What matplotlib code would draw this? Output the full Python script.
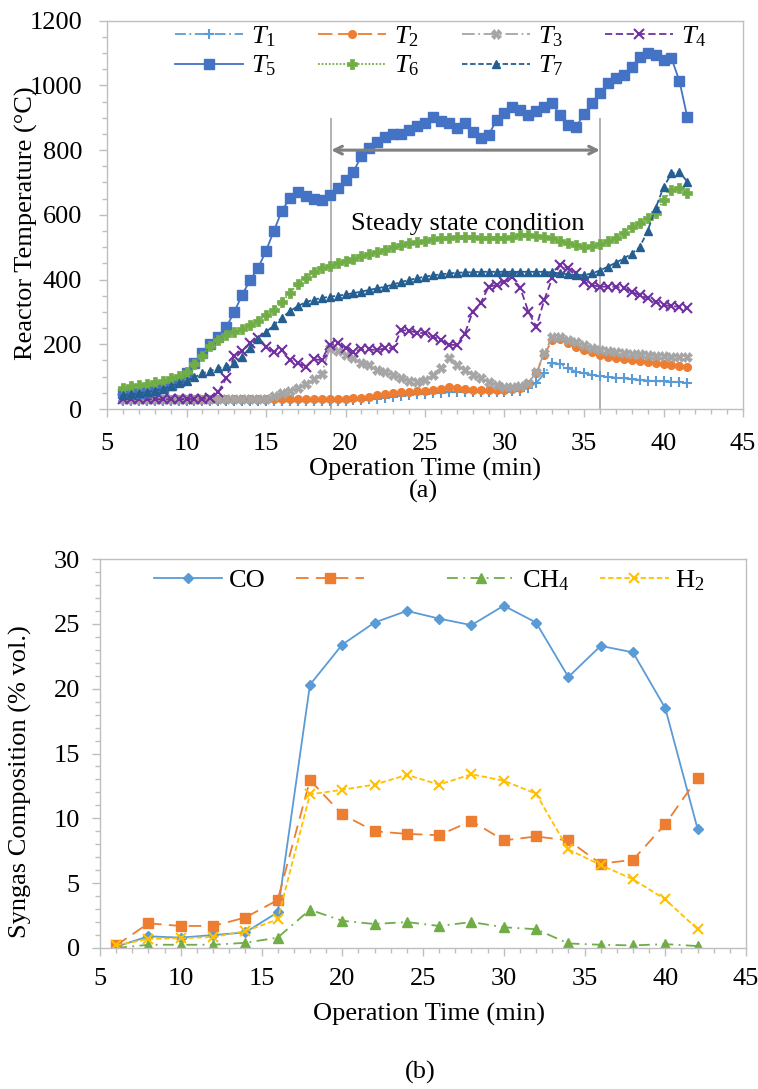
import matplotlib
matplotlib.use("Agg")
import matplotlib.pyplot as plt
from matplotlib.ticker import MultipleLocator

plt.rcParams['font.family'] = ['Liberation Serif', 'DejaVu Serif']
plt.rcParams['mathtext.fontset'] = 'custom'
plt.rcParams['mathtext.rm'] = 'Liberation Serif'
plt.rcParams['mathtext.it'] = 'Liberation Serif:italic'

# ---- (a) reactor temperatures, sampled every 0.5 min ----
time_a = [6, 6.5, 7, 7.5, 8, 8.5, 9, 9.5, 10, 10.5,
          11, 11.5, 12, 12.5, 13, 13.5, 14, 14.5, 15, 15.5,
          16, 16.5, 17, 17.5, 18, 18.5, 19, 19.5, 20, 20.5,
          21, 21.5, 22, 22.5, 23, 23.5, 24, 24.5, 25, 25.5,
          26, 26.5, 27, 27.5, 28, 28.5, 29, 29.5, 30, 30.5,
          31, 31.5, 32, 32.5, 33, 33.5, 34, 34.5, 35, 35.5,
          36, 36.5, 37, 37.5, 38, 38.5, 39, 39.5, 40, 40.5,
          41, 41.5]

T1 = [25, 25, 25, 25, 25, 25, 25, 25, 25, 25,
      25, 25, 25, 25, 25, 25, 25, 25, 25, 25,
      25, 25, 25, 25, 25, 25, 25, 25, 26, 27,
      28, 30, 32, 35, 38, 40, 43, 45, 47, 48,
      50, 52, 53, 53, 52, 52, 52, 52, 53, 55,
      57, 65, 80, 110, 141, 139, 126, 115, 110, 106,
      102, 99, 97, 95, 92, 90, 88, 86, 85, 84,
      83, 81]
T2 = [30, 30, 30, 30, 30, 30, 30, 30, 30, 30,
      30, 30, 30, 30, 30, 30, 30, 30, 30, 30,
      30, 30, 30, 30, 30, 30, 30, 31, 32, 33,
      35, 38, 42, 46, 49, 51, 53, 55, 57, 60,
      63, 68, 64, 61, 59, 58, 58, 58, 60, 62,
      66, 78, 112, 167, 213, 215, 203, 193, 182, 175,
      168, 162, 157, 153, 150, 147, 144, 141, 139, 136,
      134, 131]
T3 = [30, 30, 30, 30, 30, 30, 30, 30, 30, 30,
      30, 30, 30, 30, 30, 30, 30, 30, 32, 40,
      50, 57, 65, 78, 92, 108, 190, 180, 167, 157,
      141, 136, 121, 115, 105, 95, 87, 84, 90, 105,
      126, 157, 136, 121, 105, 95, 84, 74, 67, 67,
      71, 79, 115, 172, 223, 224, 213, 208, 198, 188,
      182, 178, 175, 173, 171, 169, 167, 165, 163, 162,
      161, 160]
T4 = [30, 30, 30, 30, 30, 30, 30, 30, 31, 31,
      32, 33, 53, 95, 165, 180, 203, 220, 193, 177,
      182, 151, 141, 131, 154, 151, 198, 203, 188, 177,
      184, 184, 182, 188, 188, 244, 242, 236, 234, 223,
      213, 198, 198, 232, 301, 327, 378, 383, 393, 409,
      373, 301, 254, 337, 404, 445, 435, 421, 393, 383,
      378, 378, 378, 373, 362, 352, 342, 332, 321, 318,
      316, 311]
T5 = [48, 48, 50, 53, 58, 65, 75, 88, 112, 143,
      174, 200, 221, 252, 300, 352, 399, 435, 489, 551,
      613, 651, 672, 658, 649, 646, 662, 682, 708, 733,
      782, 806, 824, 840, 850, 851, 862, 876, 885, 903,
      890, 883, 867, 885, 855, 836, 847, 893, 914, 932,
      924, 908, 922, 934, 945, 908, 878, 872, 911, 946,
      977, 1006, 1022, 1032, 1058, 1087, 1101, 1094, 1078, 1084,
      1014, 901]
T6 = [65, 70, 74, 78, 83, 88, 95, 103, 115, 138,
      165, 195, 213, 228, 238, 248, 260, 273, 290, 306,
      330, 360, 385, 405, 422, 435, 443, 450, 458, 465,
      472, 478, 485, 492, 500, 507, 512, 516, 520, 524,
      527, 530, 532, 533, 532, 530, 528, 527, 528, 533,
      538, 537, 535, 532, 528, 520, 512, 506, 502, 503,
      509, 518, 530, 545, 562, 575, 590, 605, 645, 676,
      684, 667]
T7 = [43, 45, 48, 52, 57, 62, 70, 80, 87, 98,
      110, 118, 126, 133, 141, 162, 190, 215, 237, 260,
      282, 302, 318, 330, 338, 343, 347, 350, 354, 358,
      363, 368, 373, 378, 385, 392, 399, 404, 409, 413,
      416, 419, 421, 422, 423, 424, 424, 424, 424, 424,
      424, 424, 424, 424, 422, 419, 416, 414, 414, 419,
      428, 440, 452, 465, 480, 500, 550, 620, 685, 728,
      733, 702]

steady_start = 19.1
steady_end = 36.0

# ---- (b) syngas composition ----
time_b = [6, 8, 10, 12, 14, 16, 18, 20, 22, 24, 26, 28, 30, 32, 34, 36, 38, 40, 42]
CO = [0.1, 0.9, 0.8, 1.0, 1.2, 2.75, 20.3, 23.4, 25.1, 26.0, 25.4, 24.9, 26.4,
      25.1, 20.9, 23.3, 22.8, 18.5, 9.2]
gas2 = [0.2, 1.9, 1.7, 1.7, 2.35, 3.7, 12.95, 10.3, 9.0, 8.8, 8.7, 9.8, 8.3,
        8.6, 8.3, 6.5, 6.8, 9.55, 13.1]
CH4 = [0.0, 0.25, 0.25, 0.25, 0.4, 0.8, 2.95, 2.1, 1.85, 2.0, 1.7, 2.0, 1.6,
       1.45, 0.35, 0.25, 0.2, 0.3, 0.15]
H2 = [0.2, 0.7, 0.75, 0.85, 1.3, 2.2, 11.85, 12.2, 12.6, 13.35, 12.6, 13.4, 12.9,
      11.9, 7.6, 6.4, 5.3, 3.75, 1.45]

W, H = 758, 1089
fig = plt.figure(figsize=(W / 100, H / 100), dpi=100)

frame_col = '#BFBFBF'
fs = 19


def px_axes(left, right, top, bottom):
    return fig.add_axes([left / W, 1 - bottom / H, (right - left) / W, (bottom - top) / H])


def style_axes(ax, xpad, ypad):
    for s in ax.spines.values():
        s.set_color(frame_col)
        s.set_linewidth(1.0)
    ax.tick_params(which='both', direction='out', color=frame_col, width=1.0, labelsize=fs)
    ax.tick_params(which='major', length=6)
    ax.tick_params(which='minor', length=3.5)
    ax.tick_params(axis='x', which='major', pad=xpad)
    ax.tick_params(axis='y', which='major', pad=ypad)
    ax.xaxis.set_major_locator(MultipleLocator(5))
    ax.xaxis.set_minor_locator(MultipleLocator(1))


# ---------------- top chart ----------------
ax1 = px_axes(107, 743, 20.7, 409)
style_axes(ax1, 11, 12)
ax1.set_xlim(5, 45)
ax1.set_ylim(0, 1200)
ax1.yaxis.set_major_locator(MultipleLocator(200))
ax1.yaxis.set_minor_locator(MultipleLocator(50))

series_a = [
    (T1, r'$\mathit{T}_{\mathit{1}}$', '#5B9BD5', (0, (6, 2, 1, 2)), '+', 6.5, 1.5),
    (T2, r'$\mathit{T}_{\mathit{2}}$', '#ED7D31', (0, (8, 3)), 'o', 5.5, 1.0),
    (T3, r'$\mathit{T}_{\mathit{3}}$', '#A5A5A5', (0, (7, 2, 1, 2)), 'X', 6.5, 0.5),
    (T4, r'$\mathit{T}_{\mathit{4}}$', '#7030A0', (0, (4, 2)), 'x', 6.5, 1.5),
    (T5, r'$\mathit{T}_{\mathit{5}}$', '#4472C4', '-', 's', 6.5, 1.0),
    (T6, r'$\mathit{T}_{\mathit{6}}$', '#70AD47', (0, (1, 1)), 'P', 6.5, 0.5),
    (T7, r'$\mathit{T}_{\mathit{7}}$', '#255E91', (0, (3, 1.5)), '^', 6, 1.0),
]
lines_a = []
for vals, lab, col, ls, mk, ms, mew in series_a:
    ln, = ax1.plot(time_a, vals, color=col, ls=ls, lw=1.3, marker=mk, ms=ms,
                   mew=mew, mec=col, mfc=col, label=lab)
    lines_a.append(ln)

ax1.vlines([steady_start, steady_end], 0, 900, color='#A6A6A6', lw=1.2, zorder=1)
ax1.annotate('', xy=(steady_start, 800), xytext=(steady_end, 800),
             arrowprops=dict(arrowstyle='<->', color='#808080', lw=2.2,
                             shrinkA=0, shrinkB=0, mutation_scale=14))
ax1.text(27.7, 553, 'Steady state condition', ha='center', va='baseline', fontsize=fs)

order = [0, 4, 1, 5, 2, 6, 3]
ax1.legend([lines_a[i] for i in order], [series_a[i][1] for i in order],
           ncol=4, loc='upper left', bbox_to_anchor=(0.09, 1.0175), frameon=False,
           fontsize=19, handlelength=2.58, handletextpad=0.3, columnspacing=1.6,
           labelspacing=0.18, borderaxespad=0.0)

ax1.set_ylabel('Reactor Temperature (\u00b0C)', fontsize=fs)
ax1.yaxis.set_label_coords(-0.108, 0.479)
ax1.set_xlabel('Operation Time (min)', fontsize=fs)
ax1.xaxis.set_label_coords(0.5, -0.126)

fig.text(423 / W, 1 - 491 / H, '(a)', ha='center', va='center', fontsize=fs)

# ---------------- bottom chart ----------------
ax2 = px_axes(100, 746, 559, 948)
style_axes(ax2, 8.4, 8.4)
ax2.set_xlim(5, 45)
ax2.set_ylim(0, 30)
ax2.yaxis.set_major_locator(MultipleLocator(5))
ax2.yaxis.set_minor_locator(MultipleLocator(1))

series_b = [
    (CO, 'CO', '#5B9BD5', '-', 'D', 5.5, 1.0),
    (gas2, '       ', '#ED7D31', (0, (7, 4)), 's', 7, 1.0),
    (CH4, 'CH$_4$', '#70AD47', (0, (6, 3, 1, 3)), '^', 7, 1.0),
    (H2, 'H$_2$', '#FFC000', (0, (3, 1.5)), 'x', 7, 1.5),
]
lines_b = []
for vals, lab, col, ls, mk, ms, mew in series_b:
    ln, = ax2.plot(time_b, vals, color=col, ls=ls, lw=1.3, marker=mk, ms=ms,
                   mew=mew, mec=col, mfc=col, label=lab)
    lines_b.append(ln)

ax2.legend(lines_b, [s[1] for s in series_b], ncol=4, loc='upper left',
           bbox_to_anchor=(0.067, 1.004), frameon=False, fontsize=fs,
           handlelength=2.6, handletextpad=0.23, columnspacing=1.15, borderaxespad=0.0)

ax2.set_ylabel('Syngas Composition (% vol.)', fontsize=fs)
ax2.yaxis.set_label_coords(-0.105, 0.427)
ax2.set_xlabel('Operation Time (min)', fontsize=fs)
ax2.xaxis.set_label_coords(0.509, -0.14)

fig.text(420 / W, 1 - 1072 / H, '(b)', ha='center', va='center', fontsize=fs)

fig.savefig('out.png', dpi=100, facecolor='white')
